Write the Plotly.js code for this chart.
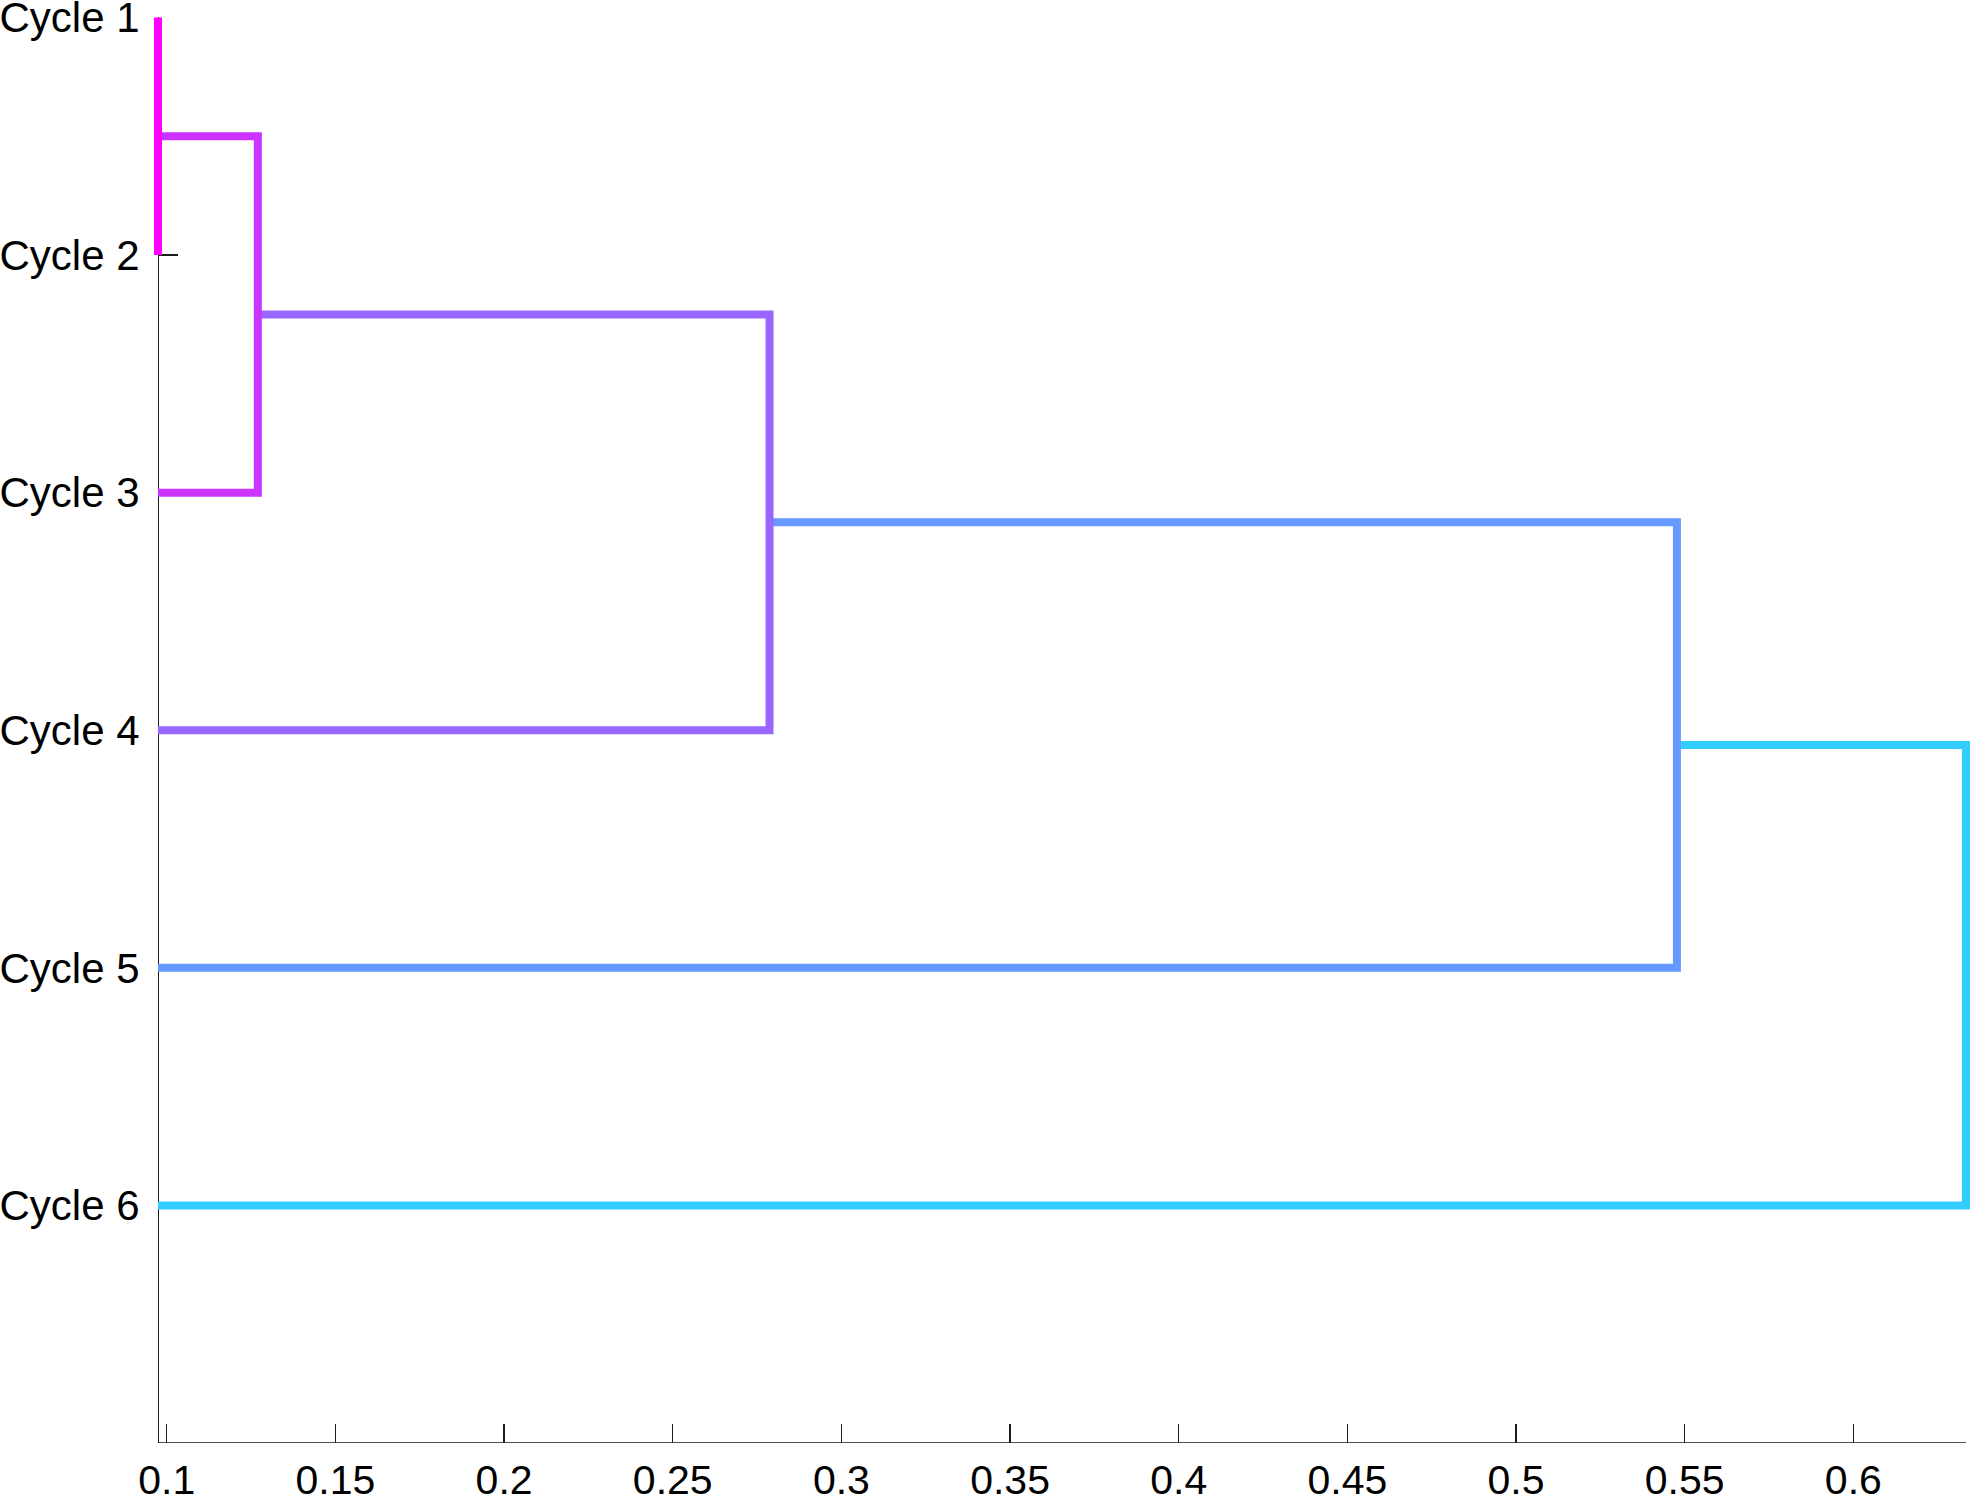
<!DOCTYPE html>
<html>
<head>
<meta charset="utf-8">
<script src="https://cdn.plot.ly/plotly-3.0.1.min.js"></script>
<style>
  html, body { margin: 0; padding: 0; background: #fff; }
  #chart { width: 1973px; height: 1503px; }
</style>
</head>
<body>
<div id="chart"></div>
<script>
// Leaf labels, top to bottom.
const leafLabels = ['Cycle 1', 'Cycle 2', 'Cycle 3', 'Cycle 4', 'Cycle 5', 'Cycle 6'];

// Linkage (MATLAB style): ids 1..6 are leaves, 7.. are merged clusters.
const linkPairs   = [[1, 2], [7, 3], [8, 4], [9, 5], [10, 6]];
const linkHeights = [0.0974, 0.1270, 0.2787, 0.5477, 0.6334];
// cool(6), magenta end for the tightest link
const linkColors  = ['#ff00ff', '#cc33ff', '#9966ff', '#6699ff', '#33ccff'];

const xTicks = [0.1, 0.15, 0.2, 0.25, 0.3, 0.35, 0.4, 0.45, 0.5, 0.55, 0.6];

const W = 1973, H = 1503;
const margin = { l: 153, r: 2, t: 17, b: 60 };
const plotW = W - margin.l - margin.r;
const edgePad = 5; // px, so end links are not clipped at the box

const nLeaves = leafLabels.length;
const xMin = Math.min(...linkHeights);
const xMax = Math.max(...linkHeights);
const pad = (xMax - xMin) * edgePad / (plotW - 2 * edgePad);

// Position / height of every node; leaves sit on the lowest visible height.
const nodeY = {}, nodeX = {};
leafLabels.forEach((_, i) => { nodeY[i + 1] = i + 1; nodeX[i + 1] = xMin; });

const traces = [];
linkPairs.forEach(([a, b], k) => {
  const id = nLeaves + k + 1;
  const h = linkHeights[k];
  nodeY[id] = (nodeY[a] + nodeY[b]) / 2;
  nodeX[id] = h;
  traces.push({
    type: 'scatter', mode: 'lines',
    x: [nodeX[a], h, h, nodeX[b]],
    y: [nodeY[a], nodeY[a], nodeY[b], nodeY[b]],
    line: { color: linkColors[k], width: 8 },
    hoverinfo: 'skip', showlegend: false,
  });
});
traces.reverse(); // tighter links drawn on top

const axisColor = '#1a1a1a';
const font = { family: 'Liberation Sans, Arial, Helvetica, sans-serif', color: '#000' };

Plotly.newPlot('chart', traces, {
  width: W, height: H,
  margin,
  paper_bgcolor: '#fff', plot_bgcolor: '#fff',
  font,
  showlegend: false,
  xaxis: {
    range: [xMin - pad, xMax + pad],
    tickvals: xTicks,
    ticktext: xTicks.map(String),
    ticks: 'inside', ticklen: 19, tickwidth: 1.3, tickcolor: axisColor,
    tickfont: { ...font, size: 41 },
    ticklabelstandoff: 9,
    ticklabeloverflow: 'allow',
    showline: false, showgrid: false, zeroline: false,
    layer: 'below traces',
  },
  yaxis: {
    range: [nLeaves + 1, 1 - 0.002],
    anchor: 'free', position: edgePad / plotW,
    tickvals: leafLabels.map((_, i) => i + 1),
    ticktext: leafLabels,
    ticks: 'inside', ticklen: 19, tickwidth: 1.3, tickcolor: axisColor,
    tickfont: { ...font, size: 42 },
    ticklabelstandoff: 10,
    ticklabeloverflow: 'allow',
    showline: true, linecolor: axisColor, linewidth: 1.3,
    showgrid: false, zeroline: false,
    layer: 'below traces',
  },
  shapes: [{
    type: 'line', xref: 'x', yref: 'y', layer: 'below',
    x0: xMin, x1: xMax, y0: nLeaves + 1, y1: nLeaves + 1,
    line: { color: axisColor, width: 1.3 },
  }],
}, { displayModeBar: false, staticPlot: true });
</script>
</body>
</html>
